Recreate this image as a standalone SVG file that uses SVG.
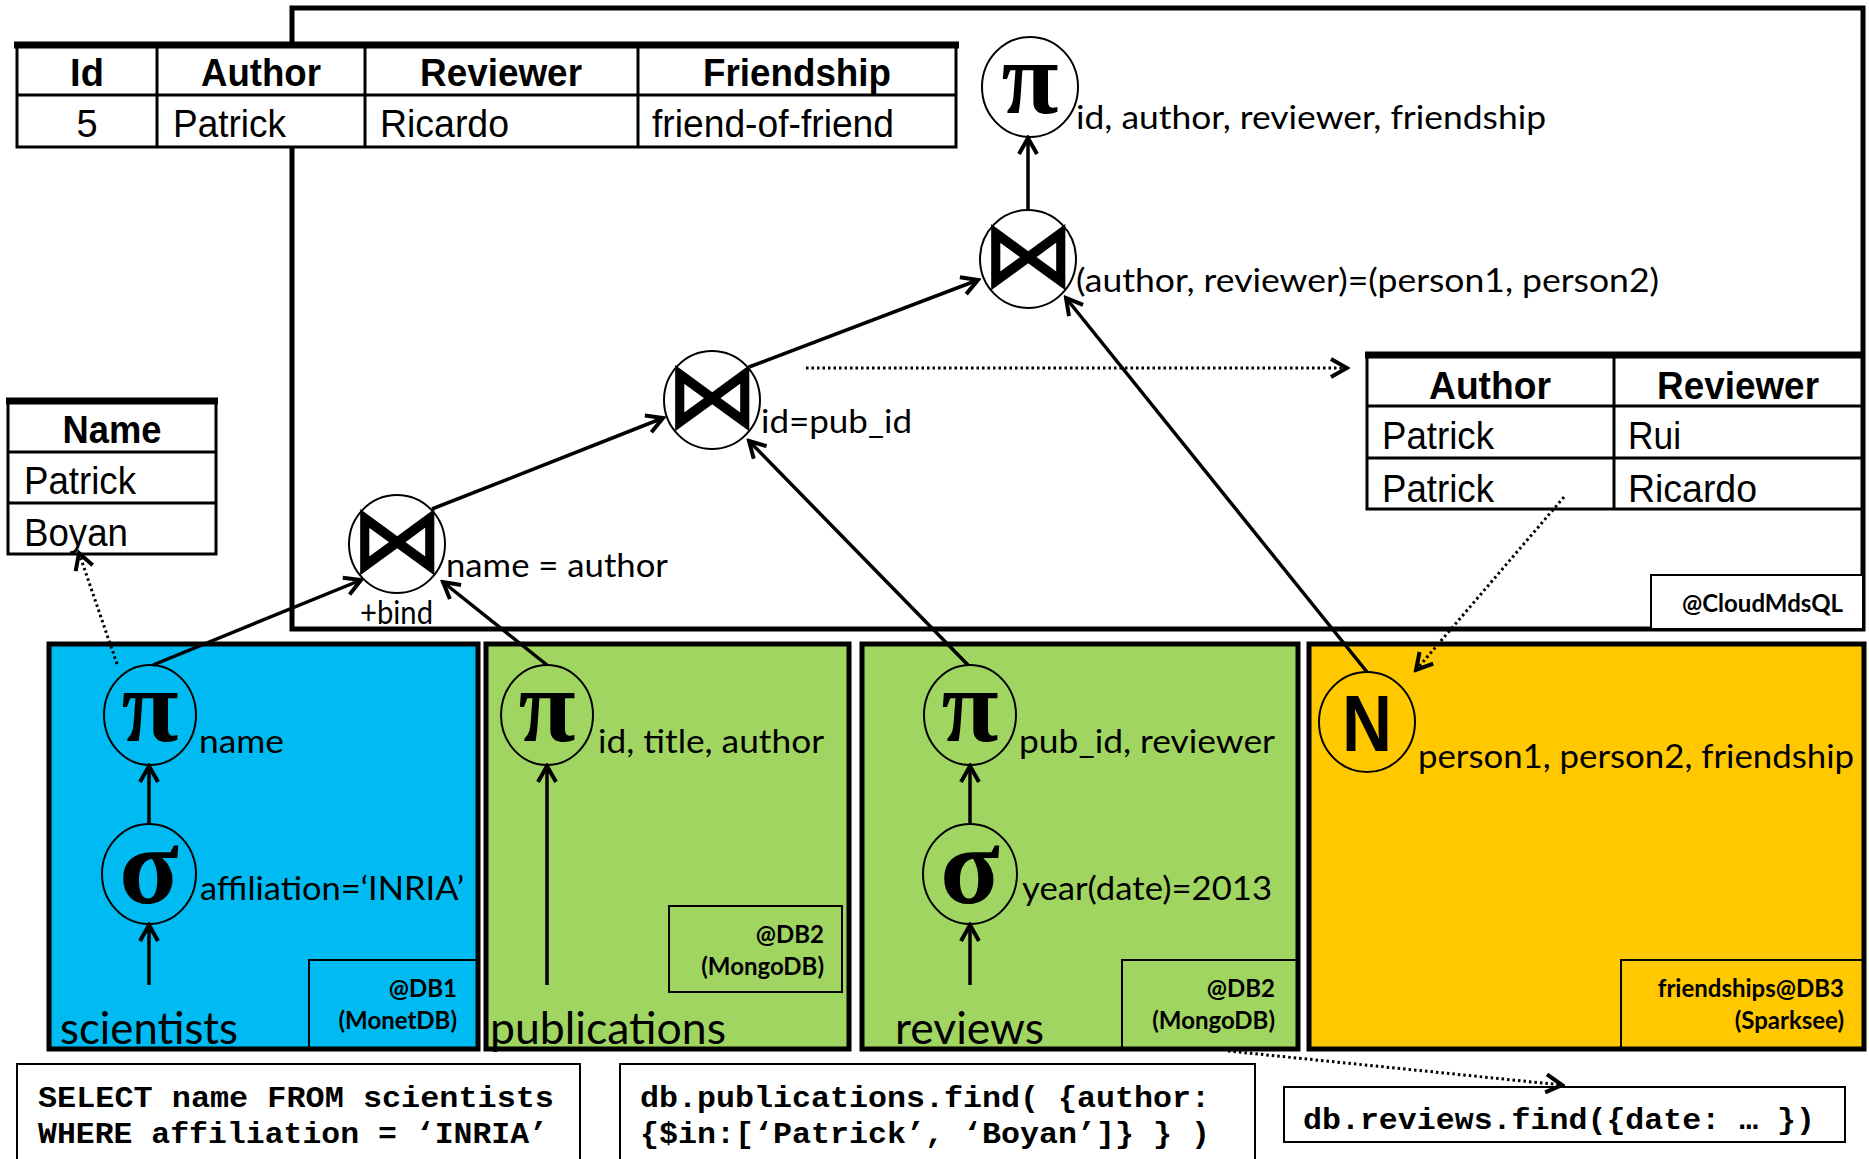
<svg xmlns="http://www.w3.org/2000/svg" width="1869" height="1159" viewBox="0 0 1869 1159">
<defs>
<style>
.bg{fill:#fff}
.frame{fill:none;stroke:#000;stroke-width:5}
.tbl{fill:#fff;stroke:#000;stroke-width:3}
.thick{stroke:#000;stroke-width:7}
.ln{stroke:#000;stroke-width:3}
.sub{fill:none;stroke:#000;stroke-width:2}
.node{fill:none;stroke:#000;stroke-width:2}
.th{font-family:"Liberation Sans",Arial,sans-serif;font-weight:bold;font-size:38px;text-anchor:middle}
.td{font-family:"Liberation Sans",Arial,sans-serif;font-size:38px}
.lab{font-family:Lato,"Open Sans",sans-serif;font-size:32px}
.big{font-family:Lato,"Open Sans",sans-serif;font-size:44px}
.db{font-family:Lato,"Open Sans",sans-serif;font-weight:bold;font-size:24px;text-anchor:end}
.code{font-family:"Liberation Mono","Courier New",monospace;font-weight:bold;font-size:29px}
.sym{font-family:"Liberation Serif","DejaVu Serif",serif;font-weight:bold;text-anchor:middle}
.join{font-family:"DejaVu Sans",sans-serif;font-size:92px;text-anchor:middle;stroke:#000;stroke-width:1.5}
.con{fill:none;stroke:#000;stroke-width:3.5;marker-end:url(#arr)}
.dot{fill:none;stroke:#000;stroke-width:3;stroke-dasharray:2.5 3;marker-end:url(#arr)}
</style>
<marker id="arr" viewBox="0 0 22 22" refX="19" refY="11" markerWidth="22" markerHeight="22" markerUnits="userSpaceOnUse" orient="auto">
<path d="M3,2 L19,11 L3,20" fill="none" stroke="#000" stroke-width="4"/>
</marker>
</defs>
<rect class="bg" x="0" y="0" width="1869" height="1159"/>

<g id="cloudmdsql-frame">
<rect class="frame" x="292" y="8" width="1571" height="621"/>
<rect x="1651" y="575" width="212" height="54" fill="#fff" stroke="#000" stroke-width="2"/>
<text class="db" x="1843" y="612">@CloudMdsQL</text>
</g>

<g id="result-table">
<rect class="tbl" x="17" y="44" width="939" height="103"/>
<line class="thick" x1="14" y1="45" x2="959" y2="45"/>
<line class="ln" x1="17" y1="95" x2="956" y2="95"/>
<line class="ln" x1="157" y1="44" x2="157" y2="147"/>
<line class="ln" x1="365" y1="44" x2="365" y2="147"/>
<line class="ln" x1="638" y1="44" x2="638" y2="147"/>
<text class="th" x="87" y="86">Id</text>
<text class="th" x="261" y="86" textLength="120" lengthAdjust="spacingAndGlyphs">Author</text>
<text class="th" x="501" y="86" textLength="162" lengthAdjust="spacingAndGlyphs">Reviewer</text>
<text class="th" x="797" y="86" textLength="188" lengthAdjust="spacingAndGlyphs">Friendship</text>
<text class="td" x="87" y="137" text-anchor="middle">5</text>
<text class="td" x="173" y="137" textLength="113" lengthAdjust="spacingAndGlyphs">Patrick</text>
<text class="td" x="380" y="137" textLength="129" lengthAdjust="spacingAndGlyphs">Ricardo</text>
<text class="td" x="652" y="137" textLength="242" lengthAdjust="spacingAndGlyphs">friend-of-friend</text>
</g>

<g id="name-table">
<rect class="tbl" x="8" y="400" width="208" height="154"/>
<line class="thick" x1="6" y1="401" x2="218" y2="401"/>
<line class="ln" x1="8" y1="452" x2="216" y2="452"/>
<line class="ln" x1="8" y1="503" x2="216" y2="503"/>
<text class="th" x="112" y="443" textLength="99" lengthAdjust="spacingAndGlyphs">Name</text>
<text class="td" x="24" y="494" textLength="112" lengthAdjust="spacingAndGlyphs">Patrick</text>
<text class="td" x="24" y="546" textLength="104" lengthAdjust="spacingAndGlyphs">Boyan</text>
</g>

<g id="author-reviewer-table">
<rect class="tbl" x="1367" y="354" width="495" height="155"/>
<line class="thick" x1="1365" y1="355" x2="1864" y2="355"/>
<line class="ln" x1="1367" y1="406" x2="1862" y2="406"/>
<line class="ln" x1="1367" y1="458" x2="1862" y2="458"/>
<line class="ln" x1="1614" y1="354" x2="1614" y2="509"/>
<text class="th" x="1490" y="399" textLength="122" lengthAdjust="spacingAndGlyphs">Author</text>
<text class="th" x="1738" y="399" textLength="162" lengthAdjust="spacingAndGlyphs">Reviewer</text>
<text class="td" x="1382" y="449" textLength="112" lengthAdjust="spacingAndGlyphs">Patrick</text>
<text class="td" x="1628" y="449" textLength="53" lengthAdjust="spacingAndGlyphs">Rui</text>
<text class="td" x="1382" y="502" textLength="112" lengthAdjust="spacingAndGlyphs">Patrick</text>
<text class="td" x="1628" y="502" textLength="129" lengthAdjust="spacingAndGlyphs">Ricardo</text>
</g>

<g id="db1-scientists">
<rect x="49" y="644" width="429" height="405" fill="#00BBF1" stroke="#000" stroke-width="5"/>
<rect class="sub" x="309" y="960" width="169" height="89"/>
<text class="db" x="457" y="997">@DB1</text>
<text class="db" x="457" y="1029">(MonetDB)</text>
<text class="big" x="60" y="1044" textLength="178" lengthAdjust="spacingAndGlyphs">scientists</text>
</g>

<g id="db2-publications">
<rect x="486" y="644" width="363" height="405" fill="#A0D562" stroke="#000" stroke-width="5"/>
<rect class="sub" x="669" y="906" width="173" height="86"/>
<text class="db" x="824" y="943">@DB2</text>
<text class="db" x="824" y="975">(MongoDB)</text>
<text class="big" x="490" y="1044" textLength="236" lengthAdjust="spacingAndGlyphs">publications</text>
</g>

<g id="db2-reviews">
<rect x="862" y="644" width="436" height="405" fill="#A0D562" stroke="#000" stroke-width="5"/>
<rect class="sub" x="1122" y="960" width="176" height="89"/>
<text class="db" x="1275" y="997">@DB2</text>
<text class="db" x="1275" y="1029">(MongoDB)</text>
<text class="big" x="895" y="1044" textLength="149" lengthAdjust="spacingAndGlyphs">reviews</text>
</g>

<g id="db3-friendships">
<rect x="1309" y="644" width="555" height="405" fill="#FFC800" stroke="#000" stroke-width="5"/>
<rect class="sub" x="1621" y="960" width="243" height="89"/>
<text class="db" x="1844" y="997">friendships@DB3</text>
<text class="db" x="1844" y="1029">(Sparksee)</text>
</g>

<g id="node-pi-top">
<ellipse class="node" cx="1030" cy="87" rx="48" ry="50"/>
<text class="sym" x="1030" y="113" font-size="104">π</text>
<text class="lab" x="1076" y="129" textLength="470" lengthAdjust="spacingAndGlyphs">id, author, reviewer, friendship</text>
</g>

<g id="node-join1">
<ellipse class="node" cx="1028" cy="259" rx="48" ry="49"/>
<text class="join" x="1028" y="286">⋈</text>
<text class="lab" x="1076" y="292" textLength="583" lengthAdjust="spacingAndGlyphs">(author, reviewer)=(person1, person2)</text>
</g>

<g id="node-join2">
<ellipse class="node" cx="712" cy="400" rx="48" ry="49"/>
<text class="join" x="712" y="427">⋈</text>
<text class="lab" x="761" y="433" textLength="151" lengthAdjust="spacingAndGlyphs">id=pub_id</text>
</g>

<g id="node-join3">
<ellipse class="node" cx="397" cy="544" rx="48" ry="49"/>
<text class="join" x="397" y="571">⋈</text>
<text class="lab" x="446" y="577" textLength="222" lengthAdjust="spacingAndGlyphs">name = author</text>
<text class="lab" x="360" y="624" font-size="27" textLength="73" lengthAdjust="spacingAndGlyphs">+bind</text>
</g>

<g id="node-pi-scientists">
<ellipse class="node" cx="150" cy="715" rx="46" ry="50"/>
<text class="sym" x="150" y="741" font-size="104">π</text>
<text class="lab" x="199" y="753" textLength="85" lengthAdjust="spacingAndGlyphs">name</text>
</g>

<g id="node-sigma-scientists">
<ellipse class="node" cx="149" cy="874" rx="47" ry="50"/>
<text class="sym" x="149" y="903" font-size="110">σ</text>
<text class="lab" x="200" y="900" textLength="264" lengthAdjust="spacingAndGlyphs">affiliation=‘INRIA’</text>
</g>

<g id="node-pi-publications">
<ellipse class="node" cx="547" cy="715" rx="46" ry="50"/>
<text class="sym" x="547" y="741" font-size="104">π</text>
<text class="lab" x="598" y="753" textLength="226" lengthAdjust="spacingAndGlyphs">id, title, author</text>
</g>

<g id="node-pi-reviews">
<ellipse class="node" cx="970" cy="715" rx="46" ry="50"/>
<text class="sym" x="970" y="741" font-size="104">π</text>
<text class="lab" x="1019" y="753" textLength="256" lengthAdjust="spacingAndGlyphs">pub_id, reviewer</text>
</g>

<g id="node-sigma-reviews">
<ellipse class="node" cx="970" cy="874" rx="47" ry="50"/>
<text class="sym" x="970" y="903" font-size="110">σ</text>
<text class="lab" x="1022" y="900" textLength="250" lengthAdjust="spacingAndGlyphs">year(date)=2013</text>
</g>

<g id="node-n-friendships">
<ellipse class="node" cx="1367" cy="722" rx="48" ry="50"/>
<text x="1367" y="751" font-family="Liberation Sans,Arial,sans-serif" font-weight="bold" font-size="80" text-anchor="middle" textLength="50" lengthAdjust="spacingAndGlyphs">N</text>
<text class="lab" x="1418" y="768" textLength="436" lengthAdjust="spacingAndGlyphs">person1, person2, friendship</text>
</g>

<g id="code-sql">
<rect class="sub" x="17" y="1064" width="563" height="110" fill="#fff"/>
<text class="code" x="38" y="1107" textLength="516" lengthAdjust="spacingAndGlyphs">SELECT name FROM scientists</text>
<text class="code" x="38" y="1143" textLength="510" lengthAdjust="spacingAndGlyphs">WHERE affiliation = ‘INRIA’</text>
</g>

<g id="code-publications">
<rect class="sub" x="620" y="1064" width="635" height="110" fill="#fff"/>
<text class="code" x="640" y="1107" textLength="570" lengthAdjust="spacingAndGlyphs">db.publications.find( {author:</text>
<text class="code" x="640" y="1143" textLength="570" lengthAdjust="spacingAndGlyphs">{$in:[‘Patrick’, ‘Boyan’]} } )</text>
</g>

<g id="code-reviews">
<rect class="sub" x="1284" y="1087" width="561" height="55" fill="#fff"/>
<text class="code" x="1303" y="1129" textLength="512" lengthAdjust="spacingAndGlyphs">db.reviews.find({date: … })</text>
</g>

<g id="connectors">
<line class="con" x1="1028" y1="210" x2="1028" y2="138"/>
<line class="con" x1="749" y1="367" x2="978" y2="280"/>
<line class="con" x1="432" y1="509" x2="663" y2="418"/>
<line class="con" x1="153" y1="665" x2="361" y2="580"/>
<line class="con" x1="547" y1="665" x2="443" y2="582"/>
<line class="con" x1="968" y1="665" x2="749" y2="441"/>
<line class="con" x1="1367" y1="672" x2="1066" y2="298"/>
<line class="con" x1="149" y1="824" x2="149" y2="766"/>
<line class="con" x1="149" y1="985" x2="149" y2="925"/>
<line class="con" x1="547" y1="985" x2="547" y2="766"/>
<line class="con" x1="970" y1="824" x2="970" y2="766"/>
<line class="con" x1="970" y1="985" x2="970" y2="925"/>
<line class="dot" x1="806" y1="368" x2="1347" y2="368"/>
<line class="dot" x1="117" y1="664" x2="79" y2="553"/>
<line class="dot" x1="1564" y1="497" x2="1416" y2="670"/>
<line class="dot" x1="1228" y1="1051" x2="1562" y2="1085"/>
</g>
</svg>
